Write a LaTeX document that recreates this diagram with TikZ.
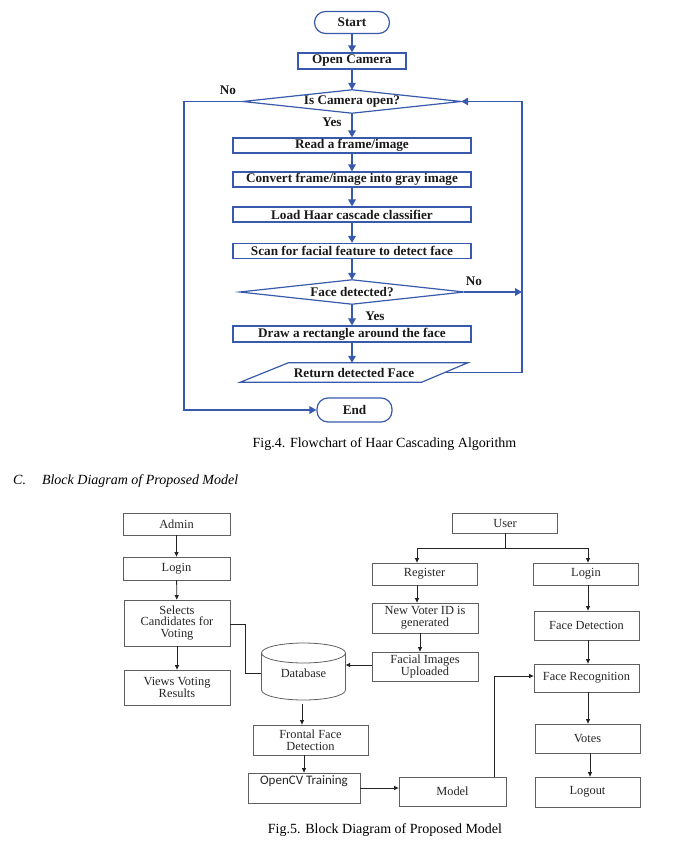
\documentclass[tikz,border=0pt]{standalone}
\usepackage{fontspec}
\setmainfont{Liberation Serif}
\newfontfamily\calfont{Carlito}
\usetikzlibrary{arrows.meta,calc}
\definecolor{fblue}{RGB}{55,90,172}
\definecolor{bgray}{RGB}{95,95,95}
\definecolor{bline}{RGB}{35,35,35}
\begin{document}
\begin{tikzpicture}[x=1pt,y=-1pt,
  ftxt/.style={font=\fontsize{13.2}{14}\selectfont\bfseries, text=black!90},
  fbox/.style={ftxt, draw=fblue, line width=1.2pt, inner sep=0pt},
  wide/.style={fbox, minimum width=238, minimum height=15},
  term/.style={fbox, rounded corners=11pt, minimum width=75},
  fshape/.style={ftxt, inner sep=0pt},
  fline/.style={draw=fblue, line width=1.2pt},
  farr/.style={draw=fblue, line width=1.6pt, -{Triangle[length=7pt,width=7.5pt]}, fblue},
  flab/.style={ftxt, inner sep=0pt},
  bbox/.style={draw=bgray, line width=0.8pt, font=\fontsize{12.4}{11.8}\selectfont, align=center, inner sep=1pt, text=black!85},
  barr/.style={draw=bline, line width=0.8pt, -{Triangle[length=4.5pt,width=4pt]}},
  bln/.style={draw=bline, line width=0.8pt},
  captxt/.style={font=\fontsize{14}{16}\selectfont, inner sep=0pt}
]
\useasboundingbox (0,0) rectangle (686,853);

% ---------------- Flowchart ----------------
\node[term, minimum height=22] (start) at (352,22.5) {Start};
\node[fbox, minimum width=108, minimum height=16] (oc) at (352,61) {Open Camera};
\node[fshape, minimum width=218, minimum height=23] (d1) at (352,101.5) {Is Camera open?};
\draw[fline] (d1.west) -- (d1.north) -- (d1.east) -- (d1.south) -- cycle;
\node[wide] (rd) at (352,145.5) {Read a frame/image};
\node[wide] (cv) at (352,179.5) {Convert frame/image into gray image};
\node[wide] (lh) at (352,214.5) {Load Haar cascade classifier};
\node[wide] (sc) at (352,251) {Scan for facial feature to detect face};
\node[fshape, minimum width=224, minimum height=24] (d2) at (352,292) {Face detected?};
\draw[fline] (d2.west) -- (d2.north) -- (d2.east) -- (d2.south) -- cycle;
\node[wide, minimum height=16] (dr) at (352,334) {Draw a rectangle around the face};
\node[fshape, minimum width=227, minimum height=19] (ret) at (354,372.5) {Return detected Face};
\draw[fline] (ret.south west) -- ([xshift=48pt]ret.north west) -- (ret.north east) -- ([xshift=-46pt]ret.south east) -- cycle;
\node[term, minimum height=24] (endn) at (354.5,410) {End};

\draw[farr] (start) -- (oc);
\draw[farr] (oc) -- (d1);
\draw[farr] (d1) -- (rd);
\draw[farr] (rd) -- (cv);
\draw[farr] (cv) -- (lh);
\draw[farr] (lh) -- (sc);
\draw[farr] (sc) -- (d2);
\draw[farr] (d2) -- (dr);
\draw[farr] (dr.south) -- (dr.south |- ret.north);

\coordinate (ll) at (184,101.5);
\coordinate (rr) at (522,101.5);
\draw[farr] (d1.west) -- (ll) |- (endn.west);
\draw[farr] ([xshift=-23pt]ret.east) -| (rr) -- (d1.east);
\draw[farr] (d2.east) -- (d2.east -| rr);

\node[flab] (no1) at (228,90) {No};
\node[flab] (yes1) at (332,122) {Yes};
\node[flab] (no2) at (474,281) {No};
\node[flab] (yes2) at (375,316) {Yes};

\node[captxt] (cap4) at (384.5,444) {Fig.4. Flowchart of Haar Cascading Algorithm};
\node[captxt, anchor=west] (secC) at (13,481) {\itshape C.\hspace{16pt}Block Diagram of Proposed Model};

% ---------------- Block diagram ----------------
\node[bbox, minimum width=107, minimum height=22] (admin) at (176.5,524) {Admin};
\node[bbox, minimum width=107, minimum height=23] (alog) at (176.5,568.5) {Login};
\node[bbox, minimum width=106, minimum height=46] (sel) at (177,623) {Selects\\Candidates for\\Voting};
\node[bbox, minimum width=106, minimum height=35] (views) at (177,687.5) {Views Voting\\Results};

\node[minimum width=84, minimum height=57, inner sep=0pt, font=\fontsize{12.4}{12}\selectfont, text=black!85] (db) at (303.5,673) {Database};
\draw[draw=bgray, line width=0.8pt] (261.5,653) -- (261.5,690) arc[start angle=180, end angle=360, x radius=42, y radius=-10] -- (345.5,653);
\draw[draw=bgray, line width=0.8pt] (303.5,653) ellipse[x radius=42, y radius=10];

\node[bbox, minimum width=105, minimum height=20] (user) at (505,523) {User};
\node[bbox, minimum width=105, minimum height=22] (reg) at (424.5,574) {Register};
\node[bbox, minimum width=105, minimum height=22] (ulog) at (586,574) {Login};
\node[bbox, minimum width=106, minimum height=30] (nv) at (425,618) {New Voter ID is\\generated};
\node[bbox, minimum width=106, minimum height=29] (fi) at (425,666.5) {Facial Images\\Uploaded};
\node[bbox, minimum width=105, minimum height=29] (fd) at (586.5,625.5) {Face Detection};
\node[bbox, minimum width=105, minimum height=28] (fr) at (586.5,678) {Face Recognition};
\node[bbox, minimum width=115, minimum height=30] (ffd) at (310.5,740) {Frontal Face\\Detection};
\node[bbox, minimum width=112, minimum height=30, text depth=15pt, font=\calfont\fontsize{13}{13}\selectfont] (ocv) at (304,788) {OpenCV Training};
\node[bbox, minimum width=107, minimum height=29] (model) at (452.5,791.5) {Model};
\node[bbox, minimum width=105, minimum height=29] (votes) at (587.5,738.5) {Votes};
\node[bbox, minimum width=105, minimum height=30] (logout) at (587.5,792) {Logout};

\coordinate (xa) at (417,0);
\coordinate (xb) at (420,0);
\coordinate (xc) at (588,0);
\coordinate (xd) at (590,0);
\coordinate (xe) at (302,0);
\coordinate (xf) at (304,0);

\draw[barr] (admin) -- (alog);
\draw[barr] (alog) -- (sel);
\draw[barr] (sel) -- (views);
\draw[bln] ([yshift=-1pt]sel.east) -- (245,624) |- (db.west);

\coordinate (uj) at (505,548);
\draw[bln] (user.south) -- (uj);
\draw[barr] (uj) -| (reg.north -| xa);
\draw[barr] (uj) -| (ulog.north -| xc);
\draw[barr] (reg.south -| xa) -- (nv.north -| xa);
\draw[barr] (nv.south -| xb) -- (fi.north -| xb);
\draw[barr] ([yshift=1.5pt]fi.west) -- ([yshift=1.5pt]fi.west -| db.east);
\draw[barr] (ulog.south -| xc) -- (fd.north -| xc);
\draw[barr] (fd.south -| xc) -- (fr.north -| xc);
\draw[barr] (fr.south -| xc) -- (votes.north -| xc);
\draw[barr] (votes.south -| xd) -- (logout.north -| xd);
\draw[barr] ([yshift=-2pt]db.south -| xe) -- (ffd.north -| xe);
\draw[barr] (ffd.south -| xf) -- (ocv.north -| xf);
\draw[barr] (ocv.east) -- (ocv.east -| model.west);
\draw[barr] ([xshift=42pt]model.north) |- ([yshift=2pt]fr.west);

\node[captxt] (cap5) at (385,830) {Fig.5. Block Diagram of Proposed Model};
\end{tikzpicture}
\end{document}
